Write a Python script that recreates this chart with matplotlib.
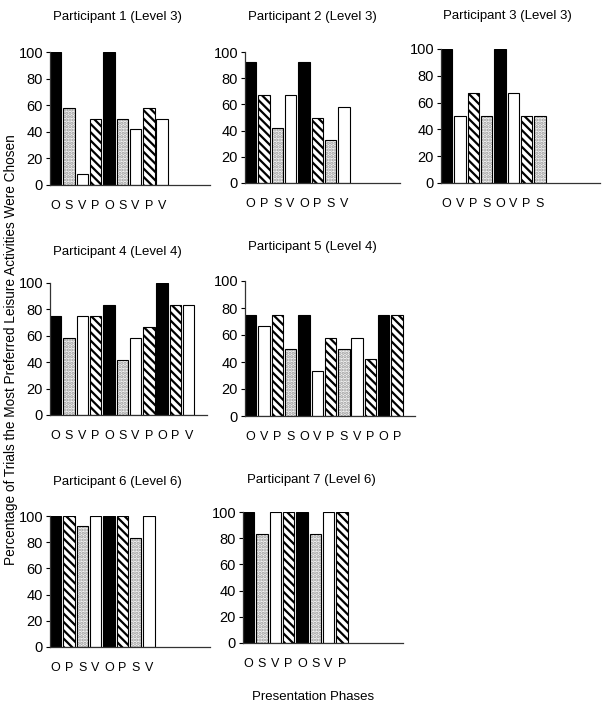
import matplotlib
matplotlib.use('Agg')
import matplotlib.pyplot as plt

# Presentation phase letters and percentages for each participant
p1_phases = ['O', 'S', 'V', 'P', 'O', 'S', 'V', 'P', 'V']
p1_values = [100, 58, 8, 50, 100, 50, 42, 58, 50]
p2_phases = ['O', 'P', 'S', 'V', 'O', 'P', 'S', 'V']
p2_values = [92, 67, 42, 67, 92, 50, 33, 58]
p3_phases = ['O', 'V', 'P', 'S', 'O', 'V', 'P', 'S']
p3_values = [100, 50, 67, 50, 100, 67, 50, 50]
p4_phases = ['O', 'S', 'V', 'P', 'O', 'S', 'V', 'P', 'O', 'P', 'V']
p4_values = [75, 58, 75, 75, 83, 42, 58, 67, 100, 83, 83]
p5_phases = ['O', 'V', 'P', 'S', 'O', 'V', 'P', 'S', 'V', 'P', 'O', 'P']
p5_values = [75, 67, 75, 50, 75, 33, 58, 50, 58, 42, 75, 75]
p6_phases = ['O', 'P', 'S', 'V', 'O', 'P', 'S', 'V']
p6_values = [100, 100, 92, 100, 100, 100, 83, 100]
p7_phases = ['O', 'S', 'V', 'P', 'O', 'S', 'V', 'P']
p7_values = [100, 83, 100, 100, 100, 83, 100, 100]

titles = ['Participant 1 (Level 3)', 'Participant 2 (Level 3)', 'Participant 3 (Level 3)',
          'Participant 4 (Level 4)', 'Participant 5 (Level 4)',
          'Participant 6 (Level 6)', 'Participant 7 (Level 6)']

plt.rcParams['font.family'] = ['Liberation Sans', 'DejaVu Sans']
plt.rcParams['hatch.linewidth'] = 1.6

W, H = 606, 708
fig = plt.figure(figsize=(W / 100, H / 100), dpi=100)

# panel boxes in pixels: x0, x1, y_top, y_bottom, title centre x, title centre y
boxes = [
    (50, 210, 52, 185, 117, 17),
    (245, 400, 52, 183, 312, 17),
    (441, 600, 49, 183, 507, 16),
    (50, 207, 283, 415, 117, 252),
    (245, 415, 281, 416, 312, 247),
    (50, 210, 516, 647, 117, 482),
    (243, 403, 512, 643, 311, 480),
]
panels = [(p1_phases, p1_values), (p2_phases, p2_values), (p3_phases, p3_values),
          (p4_phases, p4_values), (p5_phases, p5_values),
          (p6_phases, p6_values), (p7_phases, p7_values)]

PITCH = 13.3  # pixels per bar slot
BW = 0.86


def draw_bar(ax, x, v, phase):
    if phase == 'O':
        ax.bar(x, v, BW, color='black', edgecolor='black', linewidth=0.8)
    elif phase == 'V':
        ax.bar(x, v, BW, color='white', edgecolor='black', linewidth=0.8)
    elif phase == 'P':
        ax.bar(x, v, BW, color='white', edgecolor='black', hatch='\\\\\\\\', linewidth=0.8)
    else:
        # stippled bar: light dots, then a black outline on top
        ax.bar(x, v, BW, color='#f4f4f4', edgecolor='#9a9a9a', hatch='.....', linewidth=0)
        ax.bar(x, v, BW, fill=False, edgecolor='black', linewidth=0.8)


for (phases, values), title, (x0, x1, yt, yb, tx, ty) in zip(panels, titles, boxes):
    ax = fig.add_axes([x0 / W, 1 - yb / H, (x1 - x0) / W, (yb - yt) / H])
    for i, (ph, v) in enumerate(zip(phases, values)):
        draw_bar(ax, i, v, ph)
    ax.set_xlim(-BW / 2, -BW / 2 + (x1 - x0) / PITCH)
    ax.set_ylim(0, 100)
    ax.set_yticks([0, 20, 40, 60, 80, 100])
    ax.set_xticks(range(len(phases)))
    ax.set_xticklabels(phases)
    ax.tick_params(axis='x', length=0, pad=11, labelsize=9)
    ax.tick_params(axis='y', length=3, width=0.8, pad=2, labelsize=10.5)
    for s in ['top', 'right']:
        ax.spines[s].set_visible(False)
    for s in ['left', 'bottom']:
        ax.spines[s].set_linewidth(0.9)
        ax.spines[s].set_color('#333333')
    fig.text(tx / W, 1 - ty / H, title, ha='center', va='center', fontsize=9.5)

# shared axis labels
fig.text(11 / W, 1 - 350 / H,
         'Percentage of Trials the Most Preferred Leisure Activities Were Chosen',
         rotation=90, ha='center', va='center', fontsize=9.8)
fig.text(313 / W, 1 - 697 / H, 'Presentation Phases', ha='center', va='center', fontsize=9.5)

fig.savefig('out.png', dpi=100)
